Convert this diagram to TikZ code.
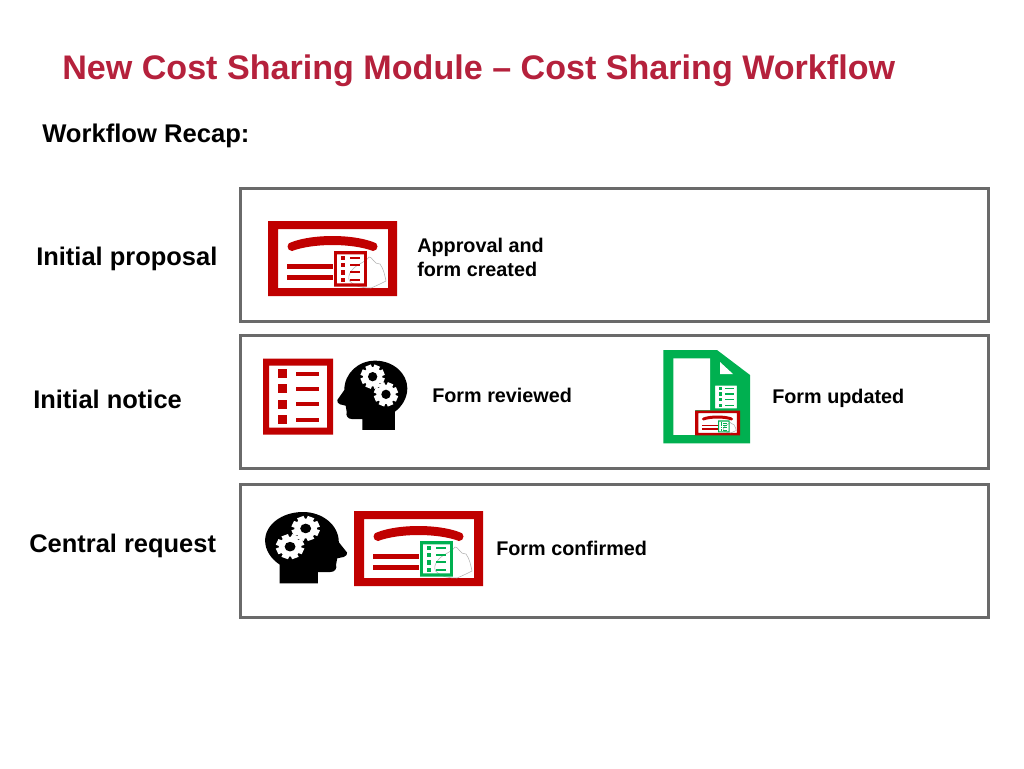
\documentclass[tikz,border=0pt]{standalone}
\usepackage{fontspec}
\setmainfont{Liberation Sans}
\definecolor{titlered}{HTML}{B5213C}
\definecolor{iconred}{HTML}{C00000}
\definecolor{icongreen}{HTML}{00B050}
\definecolor{boxgray}{HTML}{6A6A6A}
\tikzset{
  px/.style={x=0.75pt,y=-0.75pt},
  rowbox/.style={draw=boxgray,line width=2.25pt,fill=white,inner sep=0pt,anchor=center,minimum width=748.5*0.75pt,minimum height=133*0.75pt},
  heading/.style={anchor=base west,inner sep=0pt,text=titlered,font=\bfseries\fontsize{25.57pt}{30pt}\selectfont},
  recap/.style={anchor=base west,inner sep=0pt,font=\bfseries\fontsize{19.2pt}{22pt}\selectfont},
  rowlabel/.style={anchor=base west,inner sep=0pt,font=\bfseries\fontsize{19.1pt}{22pt}\selectfont},
  small/.style={anchor=base west,inner sep=0pt,align=left,font=\bfseries\fontsize{14.85pt}{18pt}\selectfont},
}
% list icon, local box 70 x 76
\newcommand{\listicon}[1]{%
  \fill[#1,even odd rule] (0,0) rectangle (70,76) (6,7) rectangle (64,69);
  \foreach \yy in {15,30,45.5,61}{
    \fill[#1] (15,\yy-4.5) rectangle (24,\yy+4.5);
    \fill[#1] (33,\yy-2) rectangle (56,\yy+2);
  }}
% card icon, local box 129 x 75
\newcommand{\cardicon}[1]{%
  \fill[iconred,even odd rule] (0,0) rectangle (129,75) (10,8) rectangle (120,67);
  \fill[iconred] (24,21) .. controls (45,13) and (84,13) .. (105,21) arc[start angle=-90,end angle=90,radius=4.5] .. controls (84,22) and (45,22) .. (24,30) arc[start angle=90,end angle=270,radius=4.5] -- cycle;
  \fill[iconred] (19,43) rectangle (65,48);
  \fill[iconred] (19,54) rectangle (65,59);
  \draw[black!30,line width=.4pt] (82,52) .. controls (88,42) and (96,43) .. (101,36) .. controls (104,35) and (106,44) .. (112,43) .. controls (116,48) and (117,56) .. (118,60) .. controls (114,62) and (108,65) .. (103,67) .. controls (96,67) and (88,66) .. (84,62) .. controls (80,60) and (80,56) .. (82,52);
  \begin{scope}[shift={(66,30)},xscale=0.47,yscale=0.47]
    \listicon{#1}
  \end{scope}}
\newcommand{\gearicon}[2]{%
  \foreach \aa in {0,45,...,135}{
    \fill[white,rotate around={\aa+22.5:(#1,#2)}] (#1-9,#2-36) rectangle (#1+9,#2+36);}
  \fill[white] (#1,#2) circle[radius=29];
  \fill[black] (#1,#2) circle[radius=14];}
% head icon in zoom coordinates: 247..457 x 47..255 y
\newcommand{\headicon}{%
  \fill[black] (247,165) -- (268,135) .. controls (268,85) and (310,47) .. (360,47)
    .. controls (415,47) and (457,85) .. (457,130) .. controls (457,160) and (440,185) .. (420,200)
    -- (420,255) -- (322,255) -- (322,222) -- (290,222) .. controls (278,222) and (272,212) .. (275,200)
    -- (272,182) -- (255,178) .. controls (248,175) and (246,170) .. (247,165) -- cycle;
  \gearicon{353}{95}
  \gearicon{393}{148}}
\begin{document}
\begin{tikzpicture}[px]
\useasboundingbox (0,0) rectangle (1024,768);
\fill[white] (0,0) rectangle (1024,768);
\node[rowbox] (boxa) at (614.25,254.9) {};
\node[rowbox] (boxb) at (614.25,401.5) {};
\node[rowbox] (boxc) at (614.25,550.5) {};
\node[heading] (title) at (62,79) {New Cost Sharing Module – Cost Sharing Workflow};
\node[recap] (recaplabel) at (42,142) {Workflow Recap:};
\node[rowlabel] (la) at (36,265.5) {Initial proposal};
\node[rowlabel] (lb) at (33,408.5) {Initial notice};
\node[rowlabel] (lc) at (29,552) {Central request};
\node[small] (ta) at (417,252) {Approval and};
\node[small] (tb) at (417,276) {form created};
\node[small] (tc) at (432,402) {Form reviewed};
\node[small] (td) at (772,403) {Form updated};
\node[small] (te) at (496,555) {Form confirmed};
% row 1 card
\begin{scope}[shift={(268,221)}]
  \cardicon{iconred}
\end{scope}
% row 2 list and head
\begin{scope}[shift={(263,358.5)}]
  \listicon{iconred}
\end{scope}
\begin{scope}[shift={(255,345)},xscale=0.3333,yscale=0.3333]
  \headicon
\end{scope}
% green document
\begin{scope}[shift={(655,345)},xscale=0.3333,yscale=0.3333]
  \fill[icongreen] (25,15) -- (186,15) -- (285,90) -- (285,295) -- (25,295) -- cycle;
  \fill[white] (55,40) -- (165,40) -- (165,195) -- (120,195) -- (120,270) -- (55,270) -- cycle;
  \fill[white] (195,51) -- (234,87) -- (195,87) -- cycle;
\end{scope}
\begin{scope}[shift={(713,383)},xscale=0.371,yscale=0.368]
  \fill[white] (0,0) rectangle (70,76);
  \listicon{icongreen}
\end{scope}
\begin{scope}[shift={(695,410.5)},xscale=0.349,yscale=0.333]
  \fill[white] (0,0) rectangle (129,75);
  \cardicon{icongreen}
\end{scope}
% row 3 head and card
\begin{scope}[shift={(347,512)},xscale=-0.39,yscale=0.343]
  \begin{scope}[shift={(-247,-47)}]
    \headicon
  \end{scope}
\end{scope}
\begin{scope}[shift={(354,511)}]
  \cardicon{icongreen}
\end{scope}
\end{tikzpicture}
\end{document}
